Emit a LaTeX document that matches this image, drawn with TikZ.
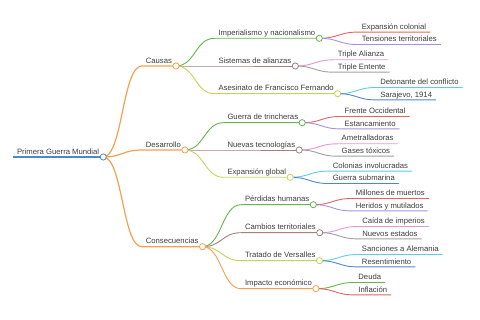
\documentclass[tikz,border=0pt]{standalone}
\usepackage{fontspec}
\setmainfont{Liberation Sans}
\usepackage{tikz}
\usetikzlibrary{positioning, calc}
\definecolor{mmtext}{RGB}{60,60,60}
\definecolor{cblue}{RGB}{80,135,200}
\definecolor{corange}{RGB}{245,160,80}
\definecolor{cgreen}{RGB}{100,180,80}
\definecolor{cred}{RGB}{225,100,100}
\definecolor{cpurple}{RGB}{165,145,225}
\definecolor{cbrown}{RGB}{170,125,125}
\definecolor{cpink}{RGB}{230,150,205}
\definecolor{cgray}{RGB}{160,160,160}
\definecolor{colive}{RGB}{200,210,90}
\definecolor{ccyan}{RGB}{95,205,225}
\tikzset{
  mmlabel/.style={
    anchor=south west, inner xsep=3.85pt, inner ysep=2.6pt, text depth=0pt,
    font=\fontsize{7.7}{9}\selectfont, text=mmtext
  },
  mmdot/.style={circle, draw=#1, fill=white, line width=0.8pt, minimum size=6.2pt, inner sep=0pt},
  mmedge/.style={draw=#1, line width=0.9pt},
  mmtrunk/.style={draw=#1, line width=1.2pt},
  mmlink/.style={to path={let \p1=(\tikztostart), \p2=(\tikztotarget) in
    .. controls ({(\x1+\x2)/2},\y1) and ({(\x1+\x2)/2},\y2) .. (\tikztotarget)}},
}
\begin{document}
\begin{tikzpicture}[x=1pt, y=-1pt]
  \useasboundingbox (0,0) rectangle (480,320);

  % --- Nodo raíz ---
  \node (root) [mmlabel] at (13,157) {Primera Guerra Mundial};

  % --- Primer nivel ---
  \node (causas) [right=38.5pt of root.south east, mmlabel, yshift= 91pt]   {Causas};
  \node (desarr) [right=38.5pt of root.south east, mmlabel, yshift= 7pt]    {Desarrollo};
  \node (consec) [right=38.5pt of root.south east, mmlabel, yshift=-89.7pt] {Consecuencias};

  % --- Causas ---
  \node (imper) [right=38.5pt of causas.south east, mmlabel, yshift= 27.7pt] {Imperialismo y nacionalismo};
  \node (alian) [right=38.5pt of causas.south east, mmlabel, yshift= 0pt]    {Sistemas de alianzas};
  \node (asesi) [right=38.5pt of causas.south east, mmlabel, yshift=-27.7pt] {Asesinato de Francisco Fernando};

  \node (colon) [right=38.5pt of imper.south east, mmlabel, yshift= 6.2pt] {Expansión colonial};
  \node (tensi) [right=38.5pt of imper.south east, mmlabel, yshift=-6.2pt] {Tensiones territoriales};
  \node (talia) [right=38.5pt of alian.south east, mmlabel, yshift= 6.2pt] {Triple Alianza};
  \node (tente) [right=38.5pt of alian.south east, mmlabel, yshift=-6.2pt] {Triple Entente};
  \node (deton) [right=38.5pt of asesi.south east, mmlabel, yshift= 6.2pt] {Detonante del conflicto};
  \node (saraj) [right=38.5pt of asesi.south east, mmlabel, yshift=-6.2pt] {Sarajevo, 1914};

  % --- Desarrollo ---
  \node (trinc) [right=38.5pt of desarr.south east, mmlabel, yshift= 27.3pt] {Guerra de trincheras};
  \node (tecno) [right=38.5pt of desarr.south east, mmlabel, yshift= 0pt]    {Nuevas tecnologías};
  \node (globa) [right=38.5pt of desarr.south east, mmlabel, yshift=-27.3pt] {Expansión global};

  \node (frent) [right=38.5pt of trinc.south east, mmlabel, yshift= 6.2pt] {Frente Occidental};
  \node (estan) [right=38.5pt of trinc.south east, mmlabel, yshift=-6.2pt] {Estancamiento};
  \node (ametr) [right=38.5pt of tecno.south east, mmlabel, yshift= 6.2pt] {Ametralladoras};
  \node (gases) [right=38.5pt of tecno.south east, mmlabel, yshift=-6.2pt] {Gases tóxicos};
  \node (cinvo) [right=38.5pt of globa.south east, mmlabel, yshift= 6.2pt] {Colonias involucradas};
  \node (gsubm) [right=38.5pt of globa.south east, mmlabel, yshift=-6.2pt] {Guerra submarina};

  % --- Consecuencias ---
  \node (perdi) [right=38.5pt of consec.south east, mmlabel, yshift= 42pt] {Pérdidas humanas};
  \node (cambi) [right=38.5pt of consec.south east, mmlabel, yshift= 14pt] {Cambios territoriales};
  \node (trata) [right=38.5pt of consec.south east, mmlabel, yshift=-14pt] {Tratado de Versalles};
  \node (econo) [right=38.5pt of consec.south east, mmlabel, yshift=-42pt] {Impacto económico};

  \node (muert) [right=38.5pt of perdi.south east, mmlabel, yshift= 6.2pt] {Millones de muertos};
  \node (herid) [right=38.5pt of perdi.south east, mmlabel, yshift=-6.2pt] {Heridos y mutilados};
  \node (caida) [right=38.5pt of cambi.south east, mmlabel, yshift= 6.2pt] {Caída de imperios};
  \node (nuevo) [right=38.5pt of cambi.south east, mmlabel, yshift=-6.2pt] {Nuevos estados};
  \node (sanci) [right=38.5pt of trata.south east, mmlabel, yshift= 6.2pt] {Sanciones a Alemania};
  \node (resen) [right=38.5pt of trata.south east, mmlabel, yshift=-6.2pt] {Resentimiento};
  \node (deuda) [right=38.5pt of econo.south east, mmlabel, yshift= 6.2pt] {Deuda};
  \node (infla) [right=38.5pt of econo.south east, mmlabel, yshift=-6.2pt] {Inflación};

  % --- Ramas ---
  \draw[mmtrunk=cblue, line width=1.5pt] (root.south west) -- (root.south east);
  \draw[mmtrunk=corange] (root.south east) to[mmlink] (causas.south west) -- (causas.south east);
  \draw[mmtrunk=corange] (root.south east) to[mmlink] (desarr.south west) -- (desarr.south east);
  \draw[mmtrunk=corange] (root.south east) to[mmlink] (consec.south west) -- (consec.south east);

  \draw[mmedge=cgreen] (causas.south east) to[mmlink] (imper.south west) -- (imper.south east);
  \draw[mmedge=cbrown] (causas.south east) to[mmlink] (alian.south west) -- (alian.south east);
  \draw[mmedge=colive] (causas.south east) to[mmlink] (asesi.south west) -- (asesi.south east);
  \draw[mmedge=cred]    (imper.south east) to[mmlink] (colon.south west) -- (colon.south east);
  \draw[mmedge=cpurple] (imper.south east) to[mmlink] (tensi.south west) -- (tensi.south east);
  \draw[mmedge=cpink]   (alian.south east) to[mmlink] (talia.south west) -- (talia.south east);
  \draw[mmedge=cgray]   (alian.south east) to[mmlink] (tente.south west) -- (tente.south east);
  \draw[mmedge=ccyan]   (asesi.south east) to[mmlink] (deton.south west) -- (deton.south east);
  \draw[mmedge=cblue]   (asesi.south east) to[mmlink] (saraj.south west) -- (saraj.south east);

  \draw[mmedge=cgreen] (desarr.south east) to[mmlink] (trinc.south west) -- (trinc.south east);
  \draw[mmedge=cbrown] (desarr.south east) to[mmlink] (tecno.south west) -- (tecno.south east);
  \draw[mmedge=colive] (desarr.south east) to[mmlink] (globa.south west) -- (globa.south east);
  \draw[mmedge=cred]    (trinc.south east) to[mmlink] (frent.south west) -- (frent.south east);
  \draw[mmedge=cpurple] (trinc.south east) to[mmlink] (estan.south west) -- (estan.south east);
  \draw[mmedge=cpink]   (tecno.south east) to[mmlink] (ametr.south west) -- (ametr.south east);
  \draw[mmedge=cgray]   (tecno.south east) to[mmlink] (gases.south west) -- (gases.south east);
  \draw[mmedge=ccyan]   (globa.south east) to[mmlink] (cinvo.south west) -- (cinvo.south east);
  \draw[mmedge=cblue]   (globa.south east) to[mmlink] (gsubm.south west) -- (gsubm.south east);

  \draw[mmedge=cgreen]  (consec.south east) to[mmlink] (perdi.south west) -- (perdi.south east);
  \draw[mmedge=cbrown]  (consec.south east) to[mmlink] (cambi.south west) -- (cambi.south east);
  \draw[mmedge=colive]  (consec.south east) to[mmlink] (trata.south west) -- (trata.south east);
  \draw[mmedge=corange] (consec.south east) to[mmlink] (econo.south west) -- (econo.south east);
  \draw[mmedge=cred]    (perdi.south east) to[mmlink] (muert.south west) -- (muert.south east);
  \draw[mmedge=cpurple] (perdi.south east) to[mmlink] (herid.south west) -- (herid.south east);
  \draw[mmedge=cpink]   (cambi.south east) to[mmlink] (caida.south west) -- (caida.south east);
  \draw[mmedge=cgray]   (cambi.south east) to[mmlink] (nuevo.south west) -- (nuevo.south east);
  \draw[mmedge=ccyan]   (trata.south east) to[mmlink] (sanci.south west) -- (sanci.south east);
  \draw[mmedge=cblue]   (trata.south east) to[mmlink] (resen.south west) -- (resen.south east);
  \draw[mmedge=cgreen]  (econo.south east) to[mmlink] (deuda.south west) -- (deuda.south east);
  \draw[mmedge=cred]    (econo.south east) to[mmlink] (infla.south west) -- (infla.south east);

  % --- Círculos de los nodos con hijos ---
  \node (root-dot)   [mmdot=cblue]   at (root.south east)   {};
  \node (causas-dot) [mmdot=corange] at (causas.south east) {};
  \node (desarr-dot) [mmdot=corange] at (desarr.south east) {};
  \node (consec-dot) [mmdot=corange] at (consec.south east) {};
  \node (imper-dot)  [mmdot=cgreen]  at (imper.south east)  {};
  \node (alian-dot)  [mmdot=cbrown]  at (alian.south east)  {};
  \node (asesi-dot)  [mmdot=colive]  at (asesi.south east)  {};
  \node (trinc-dot)  [mmdot=cgreen]  at (trinc.south east)  {};
  \node (tecno-dot)  [mmdot=cbrown]  at (tecno.south east)  {};
  \node (globa-dot)  [mmdot=colive]  at (globa.south east)  {};
  \node (perdi-dot)  [mmdot=cgreen]  at (perdi.south east)  {};
  \node (cambi-dot)  [mmdot=cbrown]  at (cambi.south east)  {};
  \node (trata-dot)  [mmdot=colive]  at (trata.south east)  {};
  \node (econo-dot)  [mmdot=corange] at (econo.south east)  {};

\end{tikzpicture}
\end{document}
